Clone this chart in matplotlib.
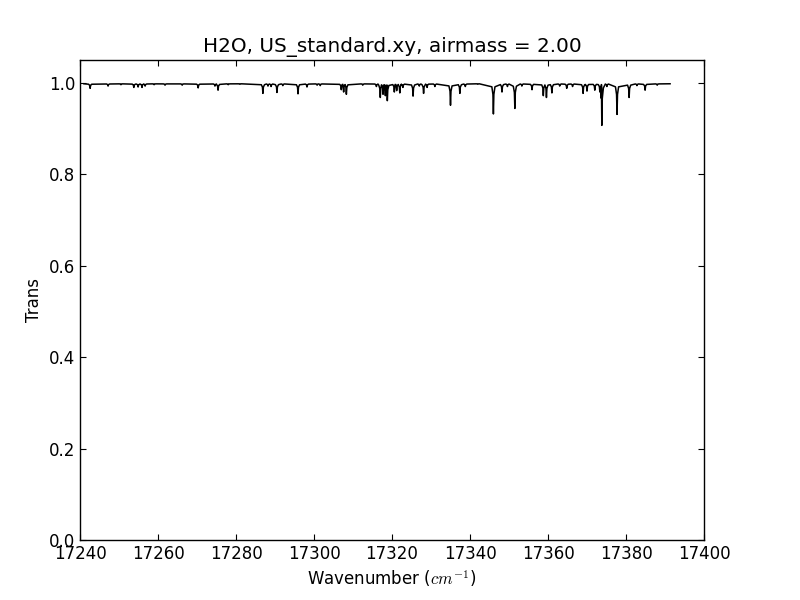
import numpy as np
import matplotlib
matplotlib.use("Agg")
import matplotlib.pyplot as plt

## Absorption lines (centre in cm^-1, minimum transmission)

continuum = 0.998
wn_start = 17241.0
wn_end = 17391.3

line_center = [17242.6, 17247.2, 17250.5, 17253.8, 17254.9, 17255.9, 17256.7,
               17259.0, 17261.8, 17266.2, 17270.3, 17274.6, 17275.4, 17278.0,
               17281.0, 17286.9, 17288.2, 17289.0, 17290.5, 17292.0, 17295.9,
               17298.2, 17300.8, 17301.6, 17307.0, 17307.6, 17308.3, 17312.5,
               17316.0, 17317.0, 17317.7, 17318.3, 17318.8, 17320.6, 17321.2,
               17322.0, 17322.8, 17325.4, 17327.0, 17328.1, 17329.0, 17331.0,
               17335.0, 17337.4, 17338.8, 17342.0, 17346.0, 17348.2, 17349.6,
               17351.5, 17353.3, 17355.9, 17358.8, 17359.6, 17361.0, 17363.0,
               17364.8, 17366.3, 17369.0, 17370.0, 17372.0, 17373.3, 17373.8,
               17375.1, 17377.7, 17380.8, 17382.8, 17384.9, 17388.0]

line_min = [0.988, 0.993, 0.996, 0.990, 0.991, 0.990, 0.993,
            0.996, 0.995, 0.995, 0.989, 0.993, 0.984, 0.996,
            0.997, 0.977, 0.993, 0.992, 0.979, 0.994, 0.976,
            0.991, 0.995, 0.994, 0.985, 0.980, 0.975, 0.995,
            0.992, 0.968, 0.975, 0.972, 0.961, 0.980, 0.983,
            0.978, 0.990, 0.971, 0.993, 0.977, 0.990, 0.992,
            0.951, 0.977, 0.992, 0.997, 0.932, 0.980, 0.992,
            0.944, 0.993, 0.985, 0.972, 0.968, 0.978, 0.993,
            0.988, 0.992, 0.977, 0.982, 0.984, 0.980, 0.907,
            0.992, 0.931, 0.968, 0.994, 0.984, 0.995]

# build the trace: each line is a narrow dip with small shoulders
offsets = [-0.4, -0.12, 0.0, 0.12, 0.4]
fracs = [0.1, 0.35, 1.0, 0.35, 0.1]
wn = [wn_start]
trans = [continuum]
for c, m in zip(line_center, line_min):
    for o, f in zip(offsets, fracs):
        wn.append(c + o)
        trans.append(continuum - f * (continuum - m))
wn.append(wn_end)
trans.append(continuum)
wn = np.array(wn)
trans = np.array(trans)
order = np.argsort(wn, kind="stable")
wn, trans = wn[order], trans[order]

plt.rcParams["font.family"] = "DejaVu Sans"
plt.rcParams["mathtext.fontset"] = "cm"
plt.rcParams["xtick.direction"] = "in"
plt.rcParams["ytick.direction"] = "in"

fig = plt.figure(figsize=(8, 6), dpi=100)
ax = fig.add_axes([0.1, 0.1, 0.78, 0.8])
ax.plot(wn, trans, color="k", lw=1.1)
ax.set_xlim(17240, 17400)
ax.set_ylim(0, 1.05)
ax.set_xticks(np.arange(17240, 17401, 20))
ax.set_yticks(np.arange(0, 1.01, 0.2))
ax.tick_params(top=True, right=True, labelsize=12, length=4, width=0.8)
ax.ticklabel_format(useOffset=False)
for s in ax.spines.values():
    s.set_linewidth(1.0)
ax.set_xlabel("Wavenumber ($cm^{-1}$)", fontsize=12)
ax.set_ylabel("Trans", fontsize=12)
ax.set_title("H2O, US_standard.xy, airmass = 2.00", fontsize=14.4)

fig.savefig("out.png", dpi=100, facecolor="white")
